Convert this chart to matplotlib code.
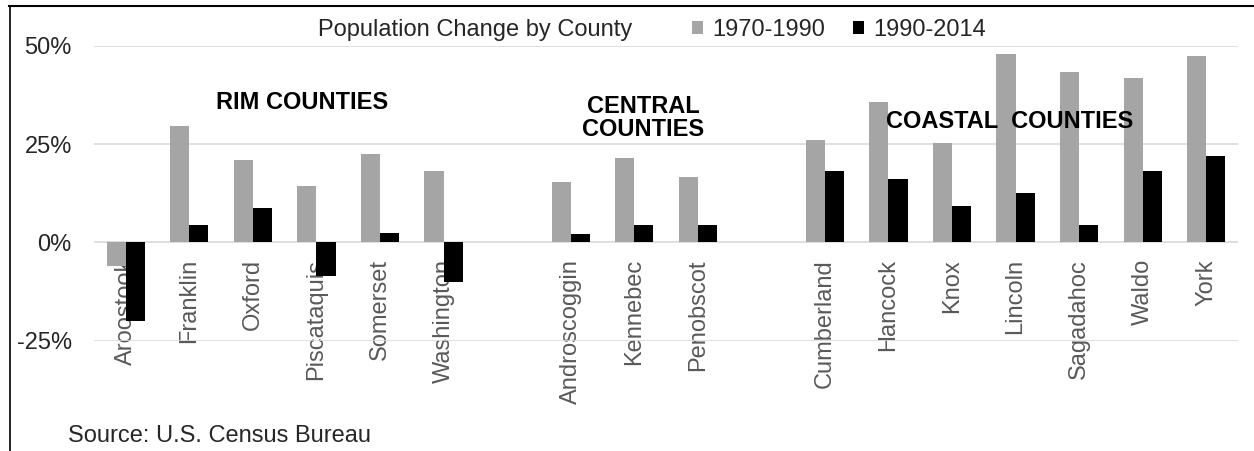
import numpy as np
import matplotlib.pyplot as plt
from matplotlib.lines import Line2D

plt.rcParams['font.family'] = ['Liberation Sans', 'DejaVu Sans']

# Data: population change (%) by county, grouped by region
rim = ['Aroostook', 'Franklin', 'Oxford', 'Piscataquis', 'Somerset', 'Washington']
central = ['Androscoggin', 'Kennebec', 'Penobscot']
coastal = ['Cumberland', 'Hancock', 'Knox', 'Lincoln', 'Sagadahoc', 'Waldo', 'York']

rim_70_90 = [-5.9, 29.5, 21.0, 14.4, 22.4, 18.2]
rim_90_14 = [-19.9, 4.5, 8.7, -8.6, 2.5, -10.1]
central_70_90 = [15.4, 21.5, 16.7]
central_90_14 = [2.1, 4.5, 4.5]
coastal_70_90 = [26.1, 35.6, 25.3, 47.9, 43.2, 41.7, 47.4]
coastal_90_14 = [18.2, 16.2, 9.3, 12.6, 4.5, 18.2, 22.0]

yticks = [-25, 0, 25, 50]
gray = '#A5A5A5'
black = '#000000'

# positions with one empty slot between groups
counties = rim + central + coastal
v1 = rim_70_90 + central_70_90 + coastal_70_90
v2 = rim_90_14 + central_90_14 + coastal_90_14
pos = np.concatenate([np.arange(len(rim)),
                      np.arange(len(central)) + len(rim) + 1,
                      np.arange(len(coastal)) + len(rim) + len(central) + 2])

fig = plt.figure(figsize=(12.54, 4.51), dpi=100)
ax = fig.add_axes([94 / 1254, 1 - 340.7 / 451, (1238 - 94) / 1254, (340.7 - 45.7) / 451])

w = 0.3
b1 = ax.bar(pos - w / 2, v1, width=w, color=gray, label='1970-1990', zorder=3)
b2 = ax.bar(pos + w / 2, v2, width=w, color=black, label='1990-2014', zorder=3)

ax.set_xlim(-0.5, pos[-1] + 0.5)
ax.set_ylim(-25, 50)
ax.set_yticks(yticks)
ax.set_yticklabels([f'{t}%' for t in yticks])
ax.yaxis.grid(True, color='#D9D9D9', linewidth=1.2, zorder=0)
for s in ['left', 'right', 'top']:
    ax.spines[s].set_visible(False)
ax.spines['bottom'].set_position(('data', 0))
ax.spines['bottom'].set_visible(False)
ax.set_xticks(pos)
ax.set_xticklabels(counties, rotation=90, fontsize=17, color='#595959')
ax.tick_params(axis='x', length=0, pad=12)
ax.tick_params(axis='y', length=0, pad=16, labelsize=17, labelcolor='#262626')
ax.patch.set_alpha(0)

# group labels
ax.text(2.77, 35.5, 'RIM COUNTIES', fontsize=17, fontweight='bold', ha='center', va='center')
ax.text(8.14, 31.5, 'CENTRAL\nCOUNTIES', fontsize=17, fontweight='bold', ha='center',
        va='center', linespacing=1.0)
ax.text(13.9, 30.7, 'COASTAL  COUNTIES', fontsize=17, fontweight='bold', ha='center', va='center')

# legend row
fig.text(318 / 1254, 1 - 30 / 451, 'Population Change by County', fontsize=17,
         ha='left', va='center', color='#262626')
fig.legend(handles=[b1, b2], loc='center left', bbox_to_anchor=(692 / 1254, 1 - 30 / 451),
           ncol=2, frameon=False, fontsize=17, borderpad=0, borderaxespad=0,
           handlelength=0.47, handleheight=0.47, handletextpad=0.38, columnspacing=1.2,
           labelcolor='#262626')

fig.text(68 / 1254, 1 - 436 / 451, 'Source: U.S. Census Bureau', fontsize=17,
         ha='left', va='center', color='#262626')

# chart border (left and top)
fig.add_artist(Line2D([9.5 / 1254, 9.5 / 1254], [0, 1 - 6 / 451], color='black', lw=1.2))
fig.add_artist(Line2D([9 / 1254, 1], [1 - 6 / 451, 1 - 6 / 451], color='black', lw=1.5))

plt.savefig('out.png', dpi=100)
